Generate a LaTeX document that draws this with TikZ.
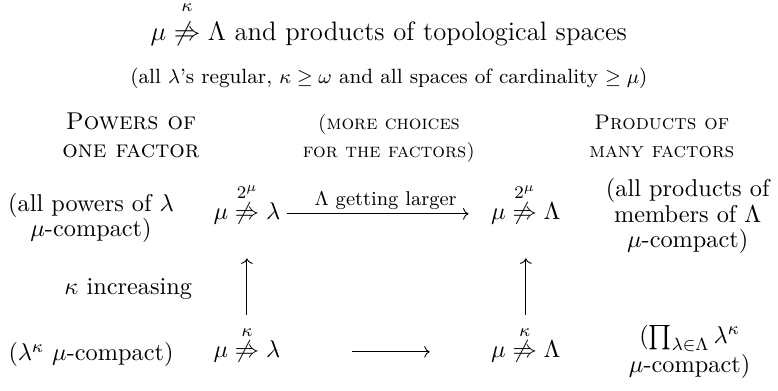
\documentclass[tikz,border=0pt]{standalone}
\usepackage{amsmath}
\usetikzlibrary{arrows.meta, positioning}
% negated partition arrow with its mark on top (optional lift of the mark)
\newcommand{\npart}[2][0pt]{\overset{\raisebox{#1}{$\scriptstyle #2$}}{\not\Rightarrow}}
\tikzset{%
   % running text, a bit over 10pt like an 11pt page
   body/.style={font=\fontsize{10.95}{13.6}\selectfont},
   small/.style={font=\fontsize{9.3}{11}\selectfont},
   % column heads in small caps
   colhead/.style={align=center, anchor=base,
      font=\fontsize{10.95}{12.6}\selectfont\scshape},
   % side notes, stacked tight
   note/.style={align=center, font=\fontsize{10.95}{11.3}\selectfont},
   cmto/.style={-{Computer Modern Rightarrow}},
   axis/.style={yshift=2.74pt},
}

\begin{document}
\begin{tikzpicture}[body, inner sep=3pt]
    \useasboundingbox (0,0) rectangle (12.32,6.19);
    % heading
    \node[anchor=base, font=\fontsize{12}{14.5}\selectfont] (title) at (6.158,5.541)
        {$\mu \npart[2.7pt]{\kappa} \Lambda$ and products of topological spaces};
    \node[anchor=base, small] (subtitle) at (6.158,4.86)
        {(all $\lambda$'s regular, $\kappa \geq \omega$ and all spaces of cardinality $\geq \mu$)};
    \node[colhead] (hone) at (2.074,3.689) {Powers of\\one factor};
    \node[colhead, font=\fontsize{9}{12.6}\selectfont\scshape] (hmore) at (6.158,3.689)
        {(more choices\\for the factors)};
    \node[colhead, font=\fontsize{9.5}{12.6}\selectfont\scshape] (hmany) at (10.48,3.689)
        {Products of\\many factors};
    % first row
    \node[anchor=base] (a1) at (3.91,2.707) {$\mu \npart{2^\mu} \lambda$};
    \node[anchor=base] (b1) at (8.327,2.707) {$\mu \npart{2^\mu} \Lambda$};
    \node[note] (l1) at (1.441,2.74) {(all powers of $\lambda$\\$\mu$-compact)};
    \node[note] (r1) at (10.89,2.77) {(all products of\\members of $\Lambda$\\$\mu$-compact)};
    % second row
    \node[anchor=base] (a2) at (3.91,0.522) {$\mu \npart{\kappa} \lambda$};
    \node[anchor=base] (b2) at (8.327,0.522) {$\mu \npart{\kappa} \Lambda$};
    \node[anchor=base] (l2) at (1.441,0.475) {($\lambda^\kappa$ $\mu$-compact)};
    \node[note] (r2) at (10.92,0.619) {($\prod_{\lambda\in\Lambda}\lambda^\kappa$\\$\mu$-compact)};
    % arrows
    \draw[cmto, shorten >=7pt] ([axis]a1.base east) -- node[above, inner sep=1.5pt,
        font=\fontsize{9}{11}\selectfont] {$\Lambda$ getting larger} ([axis]b1.base west);
    \draw[cmto, shorten <=29pt, shorten >=24.5pt] ([axis]a2.base east) -- ([axis]b2.base west);
    \draw[cmto, shorten <=2pt, shorten >=12pt] (a2.north) -- node[pos=.34, left=21.5pt] {$\kappa$ increasing} (a1.south);
    \draw[cmto, shorten <=2pt, shorten >=12pt] (b2.north) -- (b1.south);
\end{tikzpicture}
\end{document}
